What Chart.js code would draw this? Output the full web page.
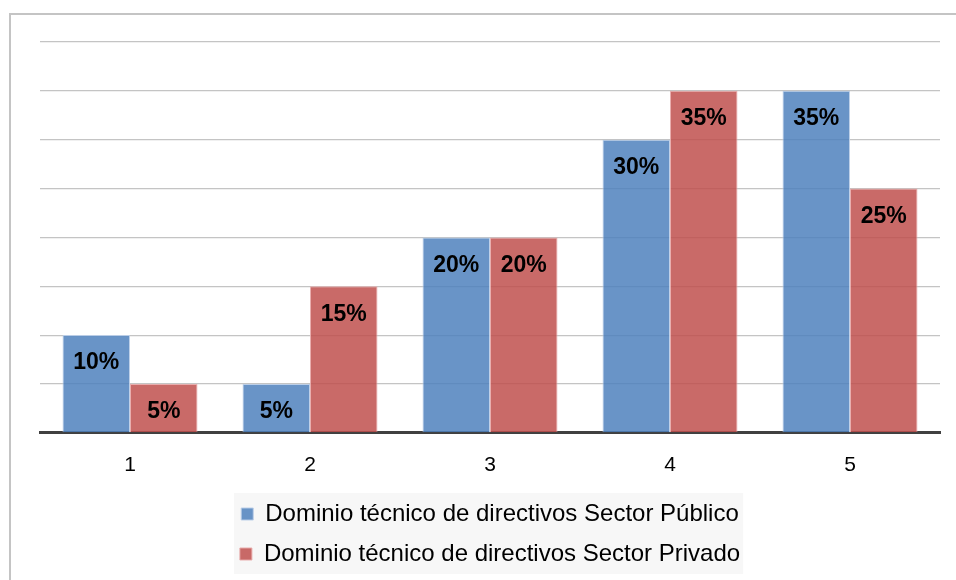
<!DOCTYPE html>
<html>
<head>
<meta charset="utf-8">
<script src="https://cdn.jsdelivr.net/npm/chart.js@4.4.1/dist/chart.umd.min.js"></script>
<style>
  html, body { margin: 0; padding: 0; background: #fff; }
  #frame {
    position: absolute; left: 9px; top: 13px;
    width: 1000px; height: 700px;
    border-left: 2px solid #c4c4c4; border-top: 2px solid #c4c4c4;
  }
  #myChart { position: absolute; left: 0; top: 0; }
</style>
</head>
<body>
<div id="frame"></div>
<canvas id="myChart" width="956" height="580"></canvas>
<script>
const categories = ['1', '2', '3', '4', '5'];
const publico = [10, 5, 20, 30, 35];
const privado = [5, 15, 20, 35, 25];
const seriesNames = [
    'Dominio técnico de directivos Sector Público',
    'Dominio técnico de directivos Sector Privado',
];

const FONT = '"Liberation Sans", Arial, sans-serif';

// percentage written inside the top of each bar
const barLabels = {
    id: 'barLabels',
    afterDatasetsDraw(chart) {
        const ctx = chart.ctx;
        ctx.save();
        ctx.font = 'bold 23px ' + FONT;
        ctx.fillStyle = '#000';
        ctx.textAlign = 'center';
        ctx.textBaseline = 'middle';
        chart.data.datasets.forEach((ds, i) => {
            chart.getDatasetMeta(i).data.forEach((bar, j) => {
                ctx.fillText(ds.data[j] + '%', bar.x, bar.y + 28);
            });
        });
        ctx.restore();
    }
};

// light grey panel behind the legend entries
const legendPanel = {
    id: 'legendPanel',
    beforeDraw(chart) {
        const boxes = chart.legend.legendHitBoxes;
        if (!boxes || !boxes.length) return;
        const left = Math.min(...boxes.map(b => b.left));
        const right = Math.max(...boxes.map(b => b.left + b.width));
        const top = Math.min(...boxes.map(b => b.top));
        const bottom = Math.max(...boxes.map(b => b.top + b.height));
        const ctx = chart.ctx;
        ctx.save();
        ctx.fillStyle = '#f7f7f7';
        ctx.fillRect(left - 6, top - 9, right - left + 9, bottom - top + 17);
        ctx.restore();
    }
};

const data = {
    labels: categories,
    datasets: [{
        label: seriesNames[0],
        data: publico,
        backgroundColor: 'rgba(79, 129, 189, 0.85)',
        borderColor: 'rgba(185, 205, 232, 0.95)',
        borderWidth: 1,
    }, {
        label: seriesNames[1],
        data: privado,
        backgroundColor: 'rgba(192, 80, 77, 0.85)',
        borderColor: 'rgba(232, 170, 170, 0.95)',
        borderWidth: 1,
    }]
};

const config = {
    type: 'bar',
    data: data,
    options: {
        responsive: false,
        animation: false,
        layout: {
            padding: { left: 40, right: 16, top: 42, bottom: 4 }
        },
        datasets: {
            bar: { categoryPercentage: 0.75, barPercentage: 1 }
        },
        scales: {
            x: {
                grid: { display: false },
                border: { color: '#404040', width: 3 },
                ticks: {
                    color: '#000',
                    padding: 12,
                    font: { family: FONT, size: 21 }
                },
                // let the category labels sit a little closer to the legend
                afterFit(scale) { scale.height -= 4; }
            },
            y: {
                min: 0,
                max: 40,
                ticks: { display: false, stepSize: 5 },
                border: { display: false },
                grid: { color: '#c4c4c4', lineWidth: 1.2, drawTicks: false }
            }
        },
        plugins: {
            tooltip: { enabled: false },
            legend: {
                position: 'bottom',
                padding: 4,
                labels: {
                    boxWidth: 12,
                    boxHeight: 12,
                    padding: 16,
                    color: '#000',
                    font: { family: FONT, size: 24 }
                }
            }
        }
    },
    plugins: [legendPanel, barLabels]
};

const myChart = new Chart(document.getElementById('myChart'), config);
</script>
</body>
</html>
